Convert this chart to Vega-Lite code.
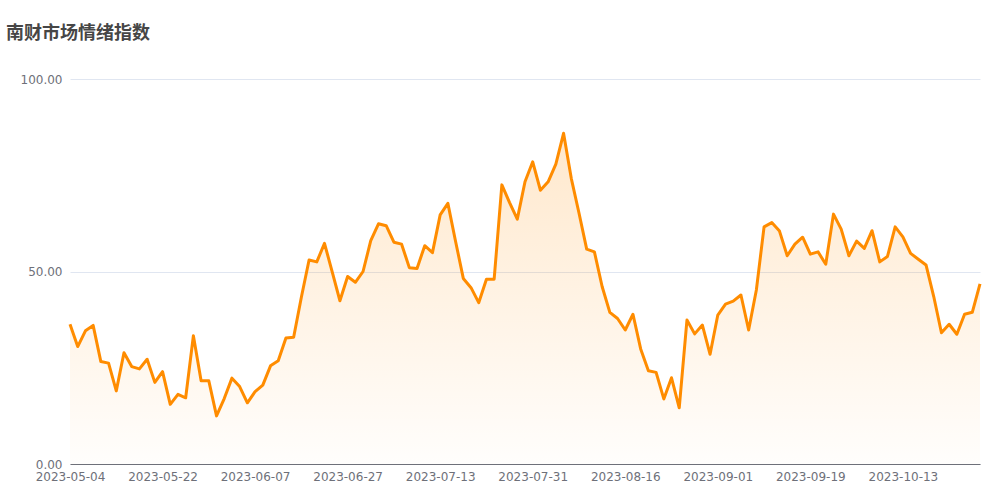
{
  "$schema": "https://vega.github.io/schema/vega-lite/v6.json",
  "autosize": "none",
  "width": 910,
  "height": 385,
  "padding": {"left": 70, "top": 79, "right": 20, "bottom": 36},
  "background": "#ffffff",
  "title": {
    "text": "南财市场情绪指数",
    "anchor": "start",
    "font": "Noto Sans CJK SC",
    "fontSize": 18,
    "fontWeight": "bold",
    "color": "#464646",
    "dx": -14,
    "offset": 30
  },
  "data": {
    "values": [
      {"date": "2023-05-04", "v": 36.3}, {"date": "2023-05-05", "v": 30.5}, {"date": "2023-05-08", "v": 34.6}, {"date": "2023-05-09", "v": 36.0},
      {"date": "2023-05-10", "v": 26.6}, {"date": "2023-05-11", "v": 26.2}, {"date": "2023-05-12", "v": 19.0}, {"date": "2023-05-15", "v": 28.9},
      {"date": "2023-05-16", "v": 25.3}, {"date": "2023-05-17", "v": 24.7}, {"date": "2023-05-18", "v": 27.2}, {"date": "2023-05-19", "v": 21.2},
      {"date": "2023-05-22", "v": 24.0}, {"date": "2023-05-23", "v": 15.5}, {"date": "2023-05-24", "v": 18.1}, {"date": "2023-05-25", "v": 17.2},
      {"date": "2023-05-26", "v": 33.3}, {"date": "2023-05-29", "v": 21.6}, {"date": "2023-05-30", "v": 21.6}, {"date": "2023-05-31", "v": 12.5},
      {"date": "2023-06-01", "v": 17.0}, {"date": "2023-06-02", "v": 22.3}, {"date": "2023-06-05", "v": 20.1}, {"date": "2023-06-06", "v": 15.9},
      {"date": "2023-06-07", "v": 18.8}, {"date": "2023-06-08", "v": 20.5}, {"date": "2023-06-09", "v": 25.5}, {"date": "2023-06-12", "v": 26.8},
      {"date": "2023-06-13", "v": 32.7}, {"date": "2023-06-14", "v": 32.9}, {"date": "2023-06-15", "v": 43.3}, {"date": "2023-06-16", "v": 53.0},
      {"date": "2023-06-19", "v": 52.5}, {"date": "2023-06-20", "v": 57.3}, {"date": "2023-06-21", "v": 49.9}, {"date": "2023-06-26", "v": 42.4},
      {"date": "2023-06-27", "v": 48.7}, {"date": "2023-06-28", "v": 47.2}, {"date": "2023-06-29", "v": 50.0}, {"date": "2023-06-30", "v": 58.0},
      {"date": "2023-07-03", "v": 62.4}, {"date": "2023-07-04", "v": 61.9}, {"date": "2023-07-05", "v": 57.6}, {"date": "2023-07-06", "v": 57.1},
      {"date": "2023-07-07", "v": 51.0}, {"date": "2023-07-10", "v": 50.8}, {"date": "2023-07-11", "v": 56.7}, {"date": "2023-07-12", "v": 54.9},
      {"date": "2023-07-13", "v": 64.7}, {"date": "2023-07-14", "v": 67.7}, {"date": "2023-07-17", "v": 57.8}, {"date": "2023-07-18", "v": 48.2},
      {"date": "2023-07-19", "v": 45.8}, {"date": "2023-07-20", "v": 41.9}, {"date": "2023-07-21", "v": 48.0}, {"date": "2023-07-24", "v": 48.0},
      {"date": "2023-07-25", "v": 72.5}, {"date": "2023-07-26", "v": 67.9}, {"date": "2023-07-27", "v": 63.6}, {"date": "2023-07-28", "v": 73.3},
      {"date": "2023-07-31", "v": 78.5}, {"date": "2023-08-01", "v": 71.1}, {"date": "2023-08-02", "v": 73.3}, {"date": "2023-08-03", "v": 77.9},
      {"date": "2023-08-04", "v": 85.9}, {"date": "2023-08-07", "v": 74.2}, {"date": "2023-08-08", "v": 65.2}, {"date": "2023-08-09", "v": 55.8},
      {"date": "2023-08-10", "v": 55.1}, {"date": "2023-08-11", "v": 46.1}, {"date": "2023-08-14", "v": 39.4}, {"date": "2023-08-15", "v": 37.8},
      {"date": "2023-08-16", "v": 34.8}, {"date": "2023-08-17", "v": 38.9}, {"date": "2023-08-18", "v": 29.9}, {"date": "2023-08-21", "v": 24.2},
      {"date": "2023-08-22", "v": 23.8}, {"date": "2023-08-23", "v": 16.9}, {"date": "2023-08-24", "v": 22.4}, {"date": "2023-08-25", "v": 14.6},
      {"date": "2023-08-28", "v": 37.4}, {"date": "2023-08-29", "v": 33.8}, {"date": "2023-08-30", "v": 36.1}, {"date": "2023-08-31", "v": 28.5},
      {"date": "2023-09-01", "v": 38.7}, {"date": "2023-09-04", "v": 41.5}, {"date": "2023-09-05", "v": 42.3}, {"date": "2023-09-06", "v": 43.9},
      {"date": "2023-09-07", "v": 34.8}, {"date": "2023-09-08", "v": 45.2}, {"date": "2023-09-11", "v": 61.6}, {"date": "2023-09-12", "v": 62.7},
      {"date": "2023-09-13", "v": 60.5}, {"date": "2023-09-14", "v": 54.1}, {"date": "2023-09-15", "v": 57.1}, {"date": "2023-09-18", "v": 58.9},
      {"date": "2023-09-19", "v": 54.5}, {"date": "2023-09-20", "v": 55.1}, {"date": "2023-09-21", "v": 51.9}, {"date": "2023-09-22", "v": 64.9},
      {"date": "2023-09-25", "v": 61.0}, {"date": "2023-09-26", "v": 54.1}, {"date": "2023-09-27", "v": 57.9}, {"date": "2023-09-28", "v": 56.0},
      {"date": "2023-10-09", "v": 60.6}, {"date": "2023-10-10", "v": 52.5}, {"date": "2023-10-11", "v": 53.9}, {"date": "2023-10-12", "v": 61.6},
      {"date": "2023-10-13", "v": 59.0}, {"date": "2023-10-16", "v": 54.7}, {"date": "2023-10-17", "v": 53.2}, {"date": "2023-10-18", "v": 51.7},
      {"date": "2023-10-19", "v": 43.5}, {"date": "2023-10-20", "v": 34.1}, {"date": "2023-10-23", "v": 36.3}, {"date": "2023-10-24", "v": 33.7},
      {"date": "2023-10-25", "v": 38.9}, {"date": "2023-10-26", "v": 39.4}, {"date": "2023-10-27", "v": 46.8}
    ]
  },
  "encoding": {
    "x": {
      "field": "date",
      "type": "ordinal",
      "sort": null,
      "scale": {"type": "point", "padding": 0},
      "axis": {
        "title": null,
        "values": ["2023-05-04", "2023-05-22", "2023-06-07", "2023-06-27", "2023-07-13", "2023-07-31", "2023-08-16", "2023-09-01", "2023-09-19", "2023-10-13"],
        "labelAngle": 0,
        "labelOverlap": false,
        "ticks": false,
        "grid": false,
        "domainColor": "#6E7079",
        "domainWidth": 1,
        "labelColor": "#6E7079",
        "labelFont": "DejaVu Sans",
        "labelFontSize": 12,
        "labelPadding": 7
      }
    },
    "y": {
      "field": "v",
      "type": "quantitative",
      "scale": {"domain": [0, 100], "nice": false},
      "axis": {
        "title": null,
        "values": [0, 50, 100],
        "format": ".2f",
        "domain": false,
        "ticks": false,
        "gridColor": "#E0E6F1",
        "gridWidth": 1,
        "labelColor": "#6E7079",
        "labelFont": "DejaVu Sans",
        "labelFontSize": 12,
        "labelPadding": 8
      }
    }
  },
  "layer": [
    {
      "mark": {
        "type": "area",
        "color": {
          "gradient": "linear",
          "x1": 0, "y1": 0, "x2": 0, "y2": 1,
          "stops": [
            {"offset": 0, "color": "rgba(255,140,0,0.2)"},
            {"offset": 1, "color": "rgba(255,140,0,0.01)"}
          ]
        }
      }
    },
    {
      "mark": {"type": "line", "color": "#FF8C00", "strokeWidth": 3, "strokeJoin": "round"}
    }
  ],
  "config": {"view": {"stroke": null}}
}
